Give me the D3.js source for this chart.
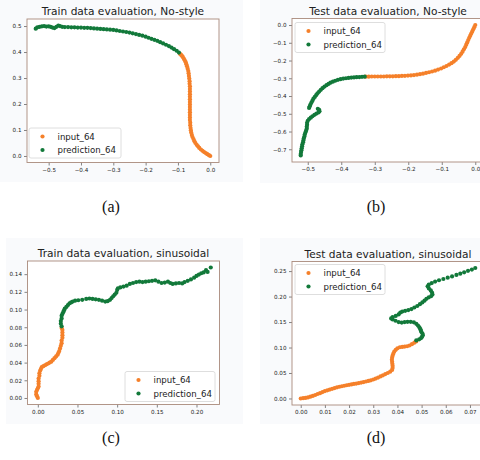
<!DOCTYPE html>
<html><head><meta charset="utf-8">
<script src="https://cdn.jsdelivr.net/npm/d3@7"></script>
<style>
html,body{margin:0;padding:0;background:#fff;}
svg{display:block;}
</style></head>
<body><svg id="c" width="480" height="460"></svg>
<script>
// ---------- DATA ----------
const seriesNames = ["input_64", "prediction_64"];
const titles = ["Train data evaluation, No-style", "Test data evaluation, No-style",
                "Train data evaluation, sinusoidal", "Test data evaluation, sinusoidal"];
const captions = ["(a)", "(b)", "(c)", "(d)"];

const inputA = [[0.000,0.000],[-0.004,0.003],[-0.009,0.007],[-0.014,0.011],[-0.019,0.015],[-0.024,0.020],[-0.029,0.025],[-0.034,0.031],[-0.038,0.037],[-0.042,0.043],[-0.046,0.050],[-0.049,0.057],[-0.052,0.065],[-0.055,0.073],[-0.057,0.081],[-0.059,0.090],[-0.060,0.099],[-0.061,0.108],[-0.062,0.118],[-0.062,0.128],[-0.063,0.138],[-0.063,0.148],[-0.063,0.158],[-0.063,0.168],[-0.063,0.178],[-0.063,0.188],[-0.063,0.198],[-0.063,0.208],[-0.063,0.218],[-0.063,0.228],[-0.063,0.238],[-0.063,0.248],[-0.063,0.258],[-0.063,0.268],[-0.064,0.278],[-0.064,0.288],[-0.065,0.298],[-0.066,0.308],[-0.067,0.318],[-0.068,0.327],[-0.070,0.336],[-0.072,0.345],[-0.074,0.353],[-0.076,0.361],[-0.079,0.368],[-0.082,0.375],[-0.085,0.381],[-0.088,0.386],[-0.091,0.390],[-0.094,0.393]];
const predA = [[-0.097,0.398],[-0.104,0.405],[-0.112,0.411],[-0.120,0.417],[-0.128,0.423],[-0.137,0.428],[-0.146,0.433],[-0.155,0.438],[-0.164,0.443],[-0.173,0.447],[-0.182,0.451],[-0.191,0.455],[-0.200,0.459],[-0.210,0.463],[-0.220,0.466],[-0.230,0.469],[-0.240,0.472],[-0.250,0.475],[-0.260,0.477],[-0.270,0.479],[-0.280,0.481],[-0.290,0.483],[-0.300,0.485],[-0.310,0.486],[-0.320,0.487],[-0.330,0.488],[-0.340,0.489],[-0.350,0.490],[-0.360,0.491],[-0.370,0.492],[-0.380,0.493],[-0.390,0.493],[-0.400,0.494],[-0.410,0.494],[-0.420,0.495],[-0.430,0.495],[-0.440,0.496],[-0.450,0.496],[-0.458,0.497],[-0.465,0.500],[-0.470,0.502],[-0.476,0.497],[-0.482,0.492],[-0.488,0.494],[-0.494,0.497],[-0.500,0.499],[-0.507,0.498],[-0.514,0.500],[-0.521,0.499],[-0.528,0.497],[-0.535,0.495],[-0.540,0.490]];

const inputB = [[0.000,0.000],[-0.003,-0.012],[-0.006,-0.024],[-0.009,-0.036],[-0.012,-0.048],[-0.015,-0.060],[-0.018,-0.072],[-0.021,-0.085],[-0.024,-0.098],[-0.027,-0.111],[-0.030,-0.124],[-0.034,-0.137],[-0.038,-0.150],[-0.042,-0.162],[-0.047,-0.174],[-0.052,-0.185],[-0.058,-0.196],[-0.064,-0.206],[-0.071,-0.215],[-0.078,-0.223],[-0.086,-0.231],[-0.094,-0.238],[-0.102,-0.245],[-0.111,-0.251],[-0.120,-0.257],[-0.129,-0.262],[-0.138,-0.266],[-0.147,-0.270],[-0.156,-0.274],[-0.165,-0.277],[-0.174,-0.280],[-0.183,-0.282],[-0.192,-0.284],[-0.201,-0.285],[-0.210,-0.286],[-0.219,-0.287],[-0.228,-0.288],[-0.237,-0.288],[-0.246,-0.289],[-0.255,-0.289],[-0.264,-0.289],[-0.273,-0.290],[-0.282,-0.290],[-0.291,-0.290],[-0.300,-0.290],[-0.309,-0.290],[-0.318,-0.291],[-0.327,-0.291]];
const predB = [[-0.330,-0.291],[-0.338,-0.292],[-0.346,-0.293],[-0.354,-0.294],[-0.362,-0.295],[-0.370,-0.296],[-0.378,-0.298],[-0.386,-0.300],[-0.394,-0.302],[-0.402,-0.305],[-0.410,-0.309],[-0.418,-0.314],[-0.425,-0.319],[-0.432,-0.325],[-0.438,-0.332],[-0.444,-0.339],[-0.450,-0.347],[-0.456,-0.356],[-0.461,-0.365],[-0.466,-0.375],[-0.471,-0.385],[-0.475,-0.395],[-0.479,-0.405],[-0.483,-0.415],[-0.486,-0.426],[-0.489,-0.437],[-0.492,-0.448],[-0.494,-0.458],[-0.496,-0.467],[-0.470,-0.472],[-0.466,-0.478],[-0.465,-0.486],[-0.468,-0.493],[-0.474,-0.499],[-0.480,-0.506],[-0.486,-0.514],[-0.491,-0.522],[-0.496,-0.530],[-0.500,-0.540],[-0.502,-0.551],[-0.502,-0.562],[-0.503,-0.573],[-0.503,-0.584],[-0.505,-0.595],[-0.507,-0.606],[-0.509,-0.617],[-0.510,-0.628],[-0.512,-0.639],[-0.513,-0.650],[-0.514,-0.661],[-0.516,-0.672],[-0.517,-0.683],[-0.518,-0.694],[-0.519,-0.705],[-0.520,-0.716],[-0.521,-0.727],[-0.521,-0.735]];

const inputC = [[0.000,0.000],[-0.001,0.002],[-0.002,0.004],[-0.002,0.007],[-0.001,0.009],[0.000,0.011],[0.001,0.013],[0.001,0.016],[0.001,0.019],[0.001,0.022],[0.002,0.025],[0.002,0.028],[0.003,0.031],[0.004,0.033],[0.005,0.035],[0.007,0.036],[0.009,0.037],[0.011,0.038],[0.013,0.039],[0.015,0.040],[0.017,0.041],[0.019,0.043],[0.021,0.045],[0.023,0.047],[0.025,0.049],[0.026,0.051],[0.027,0.053],[0.028,0.056],[0.029,0.059],[0.030,0.062],[0.030,0.065],[0.031,0.068],[0.031,0.071],[0.031,0.074],[0.031,0.077],[0.030,0.079]];
const predC = [[0.030,0.081],[0.029,0.084],[0.029,0.087],[0.030,0.090],[0.030,0.093],[0.031,0.095],[0.032,0.097],[0.033,0.099],[0.034,0.101],[0.036,0.103],[0.038,0.105],[0.040,0.107],[0.042,0.108],[0.044,0.109],[0.047,0.110],[0.051,0.1105],[0.056,0.111],[0.061,0.112],[0.065,0.1125],[0.069,0.112],[0.073,0.1115],[0.077,0.111],[0.081,0.110],[0.085,0.109],[0.088,0.1095],[0.091,0.111],[0.093,0.113],[0.095,0.115],[0.097,0.117],[0.099,0.119],[0.100,0.122],[0.101,0.124],[0.104,0.125],[0.108,0.126],[0.112,0.127],[0.116,0.129],[0.120,0.130],[0.124,0.131],[0.128,0.1315],[0.132,0.131],[0.136,0.1315],[0.140,0.132],[0.144,0.1325],[0.148,0.133],[0.152,0.1315],[0.156,0.130],[0.160,0.1305],[0.164,0.1315],[0.167,0.130],[0.170,0.129],[0.174,0.1295],[0.178,0.130],[0.182,0.1295],[0.185,0.131],[0.189,0.1325],[0.193,0.134],[0.197,0.136],[0.200,0.138],[0.203,0.1395],[0.206,0.141],[0.209,0.142],[0.212,0.1445],[0.214,0.1425],[0.218,0.1475]];

const inputD = [[0.0000,0.0000],[0.0010,0.0005],[0.0020,0.0010],[0.0030,0.0020],[0.0040,0.0035],[0.0050,0.0050],[0.0060,0.0068],[0.0070,0.0088],[0.0080,0.0105],[0.0090,0.0125],[0.0100,0.0145],[0.0110,0.0160],[0.0120,0.0175],[0.0130,0.0190],[0.0140,0.0205],[0.0150,0.0218],[0.0160,0.0230],[0.0170,0.0240],[0.0180,0.0250],[0.0190,0.0260],[0.0200,0.0268],[0.0210,0.0276],[0.0220,0.0285],[0.0230,0.0293],[0.0240,0.0302],[0.0250,0.0312],[0.0260,0.0322],[0.0270,0.0333],[0.0280,0.0344],[0.0290,0.0357],[0.0300,0.0372],[0.0310,0.0390],[0.0320,0.0410],[0.0330,0.0432],[0.0340,0.0455],[0.0350,0.0478],[0.0360,0.0500],[0.0370,0.0525],[0.0378,0.0560],[0.0380,0.0600],[0.0380,0.0640],[0.0379,0.0680],[0.0378,0.0720],[0.0377,0.0760],[0.0378,0.0800],[0.0380,0.0840],[0.0383,0.0880],[0.0387,0.0920],[0.0393,0.0955],[0.0400,0.0985],[0.0410,0.1005],[0.0420,0.1012],[0.0430,0.1018],[0.0440,0.1025],[0.0450,0.1040],[0.0460,0.1065],[0.0470,0.1095],[0.0478,0.1120]];
const predD = [[0.0478,0.1140],[0.0490,0.1160],[0.0498,0.1185],[0.0502,0.1210],[0.0505,0.1240],[0.0504,0.1270],[0.0500,0.1300],[0.0497,0.1330],[0.0495,0.1360],[0.0491,0.1395],[0.0485,0.1430],[0.0478,0.1465],[0.0468,0.1495],[0.0455,0.1505],[0.0442,0.1505],[0.0430,0.1500],[0.0418,0.1490],[0.0405,0.1500],[0.0392,0.1525],[0.0380,0.1550],[0.0374,0.1570],[0.0380,0.1595],[0.0393,0.1620],[0.0405,0.1650],[0.0412,0.1685],[0.0420,0.1705],[0.0432,0.1720],[0.0445,0.1735],[0.0458,0.1755],[0.0470,0.1785],[0.0482,0.1815],[0.0493,0.1850],[0.0503,0.1885],[0.0512,0.1920],[0.0520,0.1955],[0.0530,0.1985],[0.0540,0.2010],[0.0545,0.2040],[0.0543,0.2080],[0.0538,0.2120],[0.0530,0.2160],[0.0525,0.2200],[0.0530,0.2235],[0.0542,0.2265],[0.0556,0.2295],[0.0572,0.2320],[0.0590,0.2345],[0.0608,0.2370],[0.0626,0.2395],[0.0644,0.2425],[0.0660,0.2450],[0.0676,0.2475],[0.0692,0.2505],[0.0708,0.2530],[0.0722,0.2560]];

const xTicksA = [-0.5,-0.4,-0.3,-0.2,-0.1,0.0], yTicksA = [0.0,0.1,0.2,0.3,0.4,0.5];
const xTicksB = [-0.5,-0.4,-0.3,-0.2,-0.1,0.0], yTicksB = [0.0,-0.1,-0.2,-0.3,-0.4,-0.5,-0.6,-0.7];
const xTicksC = [0.00,0.05,0.10,0.15,0.20], yTicksC = [0.00,0.02,0.04,0.06,0.08,0.10,0.12,0.14];
const xTicksD = [0.00,0.01,0.02,0.03,0.04,0.05,0.06,0.07], yTicksD = [0.00,0.05,0.10,0.15,0.20,0.25];

// ---------- LAYOUT ----------
const colors = ["#f5802a", "#12793a"];
const panels = [
  {inp: inputA, pred: predA, xt: xTicksA, yt: yTicksA, xd: 1, yd: 1, left: 27, top: 19, bg: [0,0,243,182], legend: {x: 29, y: 128, w: 92}, cap: [111, 212]},
  {inp: inputB, pred: predB, xt: xTicksB, yt: yTicksB, xd: 1, yd: 1, left: 292, top: 18.5, bg: [260,0,220,183], legend: {x: 295, y: 22.5, w: 90}, cap: [376, 212]},
  {inp: inputC, pred: predC, xt: xTicksC, yt: yTicksC, xd: 2, yd: 2, left: 27.5, top: 261, bg: [6,238,237,186], legend: {x: 125, y: 371.5, w: 90}, cap: [111, 443]},
  {inp: inputD, pred: predD, xt: xTicksD, yt: yTicksD, xd: 2, yd: 2, left: 292, top: 261.5, bg: [260,238,220,186], legend: {x: 295, y: 264.5, w: 90}, cap: [376, 443]}
];
const W = 192, H = 143.5;
const svg = d3.select("#c");
const fmtMinus = (d, n) => d3.format("." + n + "f")(d).replace("-", "\u2212");

panels.forEach((p, i) => {
  svg.append("rect").attr("x", p.bg[0]).attr("y", p.bg[1]).attr("width", p.bg[2]).attr("height", p.bg[3]).attr("fill", "#f9fafc");
  const all = p.inp.concat(p.pred);
  const xe = d3.extent(all, d => d[0]), ye = d3.extent(all, d => d[1]);
  const xp = (xe[1]-xe[0])*0.05, yp = (ye[1]-ye[0])*0.05;
  const x = d3.scaleLinear().domain([xe[0]-xp, xe[1]+xp]).range([p.left, p.left + W]);
  const y = d3.scaleLinear().domain([ye[0]-yp, ye[1]+yp]).range([p.top + H, p.top]);
  const g = svg.append("g");
  g.append("rect").attr("x", p.left).attr("y", p.top).attr("width", W).attr("height", H).attr("fill", "#fff");

  // points
  const series = [p.inp, p.pred];
  series.forEach((s, k) => {
    g.append("g").selectAll("circle").data(s).join("circle")
      .attr("cx", d => x(d[0])).attr("cy", d => y(d[1])).attr("r", 2.1).attr("fill", colors[k]);
  });

  // axes
  const xa = g.append("g").attr("transform", `translate(0,${p.top + H})`)
    .call(d3.axisBottom(x).tickValues(p.xt).tickSize(3).tickPadding(2.5).tickFormat(d => fmtMinus(d, p.xd)));
  const ya = g.append("g").attr("transform", `translate(${p.left},0)`)
    .call(d3.axisLeft(y).tickValues(p.yt).tickSize(3).tickPadding(2.5).tickFormat(d => fmtMinus(d, p.yd)));
  [xa, ya].forEach(a => {
    a.select(".domain").remove();
    a.selectAll("line").attr("stroke", "#333").attr("stroke-width", 0.6);
    a.selectAll("text").attr("font-family", "DejaVu Sans").attr("font-size", 5.6).attr("fill", "#222");
  });
  g.append("rect").attr("x", p.left).attr("y", p.top).attr("width", W).attr("height", H)
    .attr("fill", "none").attr("stroke", "#a98a7c").attr("stroke-width", 0.9);

  // title
  svg.append("text").attr("x", p.left + W/2).attr("y", p.top - 4).attr("text-anchor", "middle")
    .attr("font-family", "DejaVu Sans").attr("font-size", 10.6).attr("fill", "#222").text(titles[i]);

  // legend
  const L = p.legend;
  const lg = svg.append("g").attr("transform", `translate(${L.x},${L.y})`);
  lg.append("rect").attr("width", L.w).attr("height", 30).attr("rx", 2).attr("fill", "#fff").attr("fill-opacity", 0.85)
    .attr("stroke", "#d6d6d6").attr("stroke-width", 0.8);
  seriesNames.forEach((nm, k) => {
    lg.append("circle").attr("cx", 13.5).attr("cy", 8.5 + k*13.5).attr("r", 2.1).attr("fill", colors[k]);
    lg.append("text").attr("x", 28.5).attr("y", 8.5 + k*13.5).attr("dy", "0.35em")
      .attr("font-family", "DejaVu Sans").attr("font-size", 8.6).attr("fill", "#222").text(nm);
  });

  // caption
  svg.append("text").attr("x", p.cap[0]).attr("y", p.cap[1]).attr("text-anchor", "middle")
    .attr("font-family", "Liberation Serif").attr("font-size", 16).attr("fill", "#111").text(captions[i]);
});
</script></body></html>
